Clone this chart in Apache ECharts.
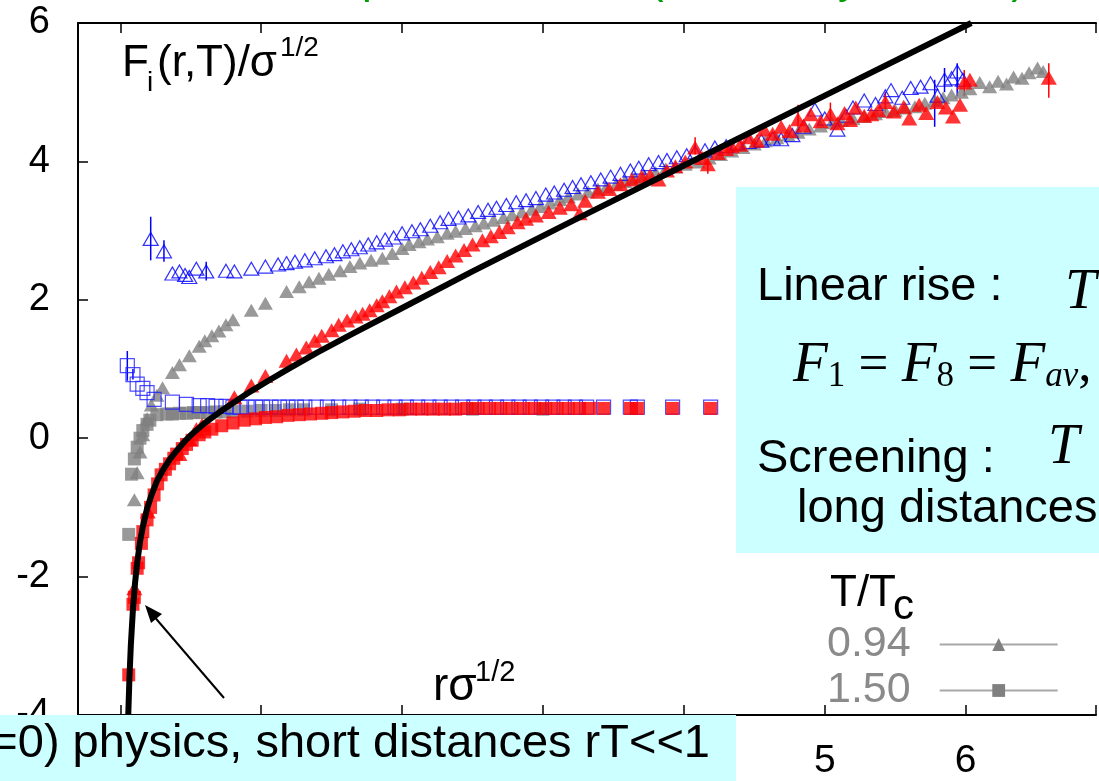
<!DOCTYPE html>
<html>
<head>
<meta charset="utf-8">
<script src="https://cdn.jsdelivr.net/npm/echarts@6/dist/echarts.min.js"></script>
<style>html,body{margin:0;padding:0;background:#fff}#chart{width:1099px;height:781px}</style>
</head>
<body>
<div id="chart"></div>
<script>
var chart = echarts.init(document.getElementById('chart'));
var option;

// x = r*sqrt(sigma), y = F/sqrt(sigma)
const cornellFit = [[0.052,-4.37],[0.057,-3.98],[0.065,-3.47],[0.075,-2.99],[0.09,-2.47],[0.105,-2.09],[0.12,-1.80],[0.14,-1.50],[0.16,-1.28],[0.19,-1.02],[0.22,-0.83],[0.26,-0.62],[0.30,-0.47],[0.35,-0.31],[0.40,-0.18],[0.46,-0.04],[0.52,0.08],[0.60,0.22],[0.70,0.37],[0.80,0.51],[0.92,0.67],[1.05,0.83],[1.20,1.01],[1.40,1.24],[1.65,1.51],[1.98,1.86],[2.5,2.41],[3.2,3.13],[4.0,3.94],[5.0,4.95],[6.04,6.0]];

// T/Tc = 0.94
const singlet094 = [[0.10,-2.17],[0.195,-1.06],[0.42,-0.23],[0.49,-0.01],[0.54,0.13],[0.58,0.19],[0.81,0.59],[0.93,0.76],[1.03,0.90],[1.18,1.12],[1.25,1.21],[1.32,1.31],[1.38,1.41],[1.43,1.48],[1.50,1.56],[1.55,1.64],[1.61,1.70],[1.67,1.76],[1.72,1.80],[1.77,1.85],[1.82,1.92],[1.86,1.98],[1.91,2.05],[1.96,2.12],[2.02,2.18],[2.08,2.25],[2.14,2.32],[2.20,2.40],[2.26,2.47],[2.32,2.56],[2.38,2.64],[2.44,2.72],[2.50,2.80],[2.57,2.86],[2.63,2.92],[2.69,2.98],[2.75,3.05],[2.82,3.12],[2.88,3.17],[2.95,3.22],[3.04,3.27],[3.12,3.33],[3.20,3.38],[3.26,3.25],[3.30,3.43],[3.39,3.56],[3.47,3.60],[3.55,3.67],[3.63,3.74],[3.70,3.78],[3.76,3.80],[3.82,3.74],[3.88,3.87],[3.94,3.93],[4.01,4.00],[4.08,4.20],[4.13,4.05],[4.17,3.96],[4.24,4.12],[4.30,4.18],[4.34,4.22],[4.40,4.24],[4.46,4.35],[4.52,4.30],[4.57,4.46],[4.63,4.40],[4.69,4.50],[4.75,4.44],[4.81,4.61],[4.85,4.52],[4.90,4.68],[4.97,4.58],[5.04,4.68],[5.09,4.55],[5.14,4.70],[5.18,4.60],[5.22,4.78],[5.28,4.66],[5.33,4.68],[5.38,4.74],[5.43,4.86],[5.49,4.72],[5.56,4.79],[5.60,4.62],[5.67,4.82],[5.72,4.70],[5.80,4.86],[5.86,4.78],[5.91,4.65],[5.96,4.82],[5.99,5.14],[6.03,5.18],[6.59,5.21]];
const octet094 = [[0.216,2.88],[0.31,2.70],[0.37,2.38],[0.42,2.41],[0.46,2.36],[0.49,2.33],[0.54,2.45],[0.61,2.41],[0.75,2.42],[0.81,2.41],[0.93,2.45],[1.03,2.48],[1.12,2.51],[1.18,2.53],[1.24,2.55],[1.31,2.57],[1.38,2.60],[1.46,2.63],[1.52,2.66],[1.58,2.70],[1.64,2.73],[1.70,2.76],[1.76,2.80],[1.82,2.83],[1.88,2.87],[1.94,2.90],[2.0,2.96],[2.07,2.99],[2.13,3.02],[2.20,3.07],[2.27,3.12],[2.33,3.17],[2.40,3.19],[2.47,3.22],[2.54,3.27],[2.61,3.30],[2.67,3.33],[2.74,3.37],[2.81,3.41],[2.88,3.44],[2.95,3.47],[3.02,3.52],[3.08,3.55],[3.15,3.59],[3.21,3.63],[3.27,3.67],[3.34,3.70],[3.41,3.74],[3.48,3.78],[3.55,3.82],[3.62,3.87],[3.68,3.91],[3.75,3.96],[3.82,3.99],[3.88,4.02],[3.95,4.06],[4.02,4.09],[4.08,4.13],[4.15,4.16],[4.22,4.20],[4.30,4.22],[4.38,4.26],[4.46,4.28],[4.55,4.30],[4.63,4.33],[4.69,4.32],[4.77,4.38],[4.85,4.50],[4.93,4.75],[5.0,4.62],[5.09,4.46],[5.15,4.66],[5.20,4.78],[5.28,4.88],[5.36,4.83],[5.43,4.94],[5.47,5.03],[5.55,4.92],[5.61,5.06],[5.68,5.08],[5.75,5.13],[5.80,4.95],[5.85,5.18],[5.90,5.20],[5.94,5.30],[5.98,5.18]];
const average094 = [[0.10,-0.89],[0.12,-0.50],[0.14,-0.20],[0.16,0.05],[0.19,0.28],[0.22,0.48],[0.26,0.62],[0.30,0.73],[0.37,0.95],[0.42,1.06],[0.49,1.19],[0.56,1.33],[0.60,1.41],[0.65,1.48],[0.70,1.55],[0.75,1.64],[0.80,1.71],[0.93,1.85],[1.03,1.95],[1.18,2.12],[1.27,2.19],[1.34,2.26],[1.41,2.31],[1.48,2.37],[1.56,2.42],[1.63,2.48],[1.70,2.53],[1.78,2.57],[1.86,2.60],[1.93,2.67],[2.0,2.74],[2.05,2.80],[2.12,2.84],[2.18,2.88],[2.25,2.91],[2.32,2.96],[2.38,2.99],[2.45,3.03],[2.52,3.07],[2.58,3.11],[2.65,3.15],[2.72,3.19],[2.78,3.23],[2.85,3.27],[2.92,3.31],[2.98,3.35],[3.05,3.40],[3.12,3.45],[3.18,3.49],[3.25,3.53],[3.32,3.56],[3.39,3.60],[3.45,3.63],[3.52,3.67],[3.58,3.71],[3.65,3.75],[3.72,3.79],[3.80,3.84],[3.87,3.89],[3.94,3.92],[4.01,3.96],[4.10,3.99],[4.18,4.05],[4.26,4.10],[4.34,4.15],[4.42,4.20],[4.50,4.25],[4.58,4.30],[4.66,4.34],[4.74,4.38],[4.81,4.42],[4.89,4.47],[4.97,4.51],[5.05,4.56],[5.12,4.59],[5.20,4.62],[5.28,4.65],[5.36,4.69],[5.43,4.72],[5.50,4.74],[5.57,4.77],[5.64,4.79],[5.71,4.84],[5.78,4.88],[5.84,4.92],[5.90,4.96],[5.97,5.00],[6.03,5.05],[6.10,5.14],[6.17,5.08],[6.23,5.16],[6.29,5.12],[6.34,5.22],[6.40,5.20],[6.45,5.28],[6.51,5.35],[6.55,5.30]];

// T/Tc = 1.50
const singlet150 = [[0.06,-3.42],[0.09,-2.40],[0.10,-2.30],[0.12,-1.88],[0.13,-1.80],[0.15,-1.52],[0.16,-1.35],[0.19,-1.18],[0.215,-1.00],[0.24,-0.82],[0.265,-0.66],[0.29,-0.53],[0.32,-0.45],[0.35,-0.37],[0.38,-0.29],[0.40,-0.23],[0.44,-0.15],[0.47,-0.09],[0.51,-0.03],[0.56,0.05],[0.60,0.09],[0.65,0.13],[0.72,0.18],[0.80,0.22],[0.88,0.26],[0.96,0.28],[1.03,0.30],[1.11,0.31],[1.19,0.33],[1.27,0.34],[1.35,0.35],[1.43,0.36],[1.50,0.37],[1.58,0.38],[1.66,0.39],[1.74,0.40],[1.82,0.40],[1.90,0.41],[1.98,0.41],[2.06,0.42],[2.14,0.42],[2.22,0.42],[2.30,0.42],[2.38,0.42],[2.46,0.43],[2.54,0.43],[2.62,0.43],[2.70,0.43],[2.78,0.43],[2.86,0.43],[2.94,0.43],[3.02,0.43],[3.10,0.43],[3.18,0.43],[3.26,0.43],[3.33,0.43],[3.43,0.43],[3.62,0.43],[3.67,0.43],[3.92,0.43],[4.19,0.43]];
const octet150 = [[0.05,1.05],[0.09,0.92],[0.12,0.78],[0.16,0.72],[0.19,0.66],[0.24,0.56],[0.37,0.52],[0.47,0.49],[0.56,0.47],[0.62,0.47],[0.68,0.46],[0.75,0.46],[0.80,0.45],[0.85,0.45],[0.90,0.45],[0.96,0.45],[1.01,0.45],[1.07,0.45],[1.13,0.45],[1.19,0.45],[1.25,0.45],[1.31,0.45],[1.39,0.45],[1.47,0.45],[1.55,0.45],[1.63,0.45],[1.71,0.45],[1.79,0.45],[1.87,0.45],[1.95,0.45],[2.03,0.45],[2.11,0.45],[2.19,0.45],[2.27,0.45],[2.35,0.45],[2.43,0.45],[2.51,0.45],[2.59,0.45],[2.67,0.45],[2.75,0.45],[2.83,0.45],[2.91,0.45],[2.99,0.45],[3.07,0.45],[3.15,0.45],[3.23,0.45],[3.31,0.45],[3.43,0.45],[3.62,0.45],[3.67,0.45],[3.92,0.45],[4.19,0.45]];
const average150 = [[0.06,-1.39],[0.08,-0.52],[0.10,-0.30],[0.12,-0.13],[0.14,0.00],[0.16,0.11],[0.19,0.20],[0.21,0.26],[0.26,0.34],[0.33,0.35],[0.37,0.35],[0.42,0.36],[0.47,0.36],[0.52,0.37],[0.56,0.37],[0.62,0.37],[0.68,0.38],[0.74,0.38],[0.80,0.39],[0.90,0.39],[1.0,0.40],[1.1,0.40],[1.2,0.41],[1.3,0.41],[1.5,0.41],[1.7,0.42],[2.0,0.42],[2.5,0.42],[3.0,0.42]];

// error bars [x, low, high]
const errOctet094 = [[0.216,2.57,3.20],[0.31,2.55,2.86],[0.61,2.28,2.55],[5.78,4.50,5.18],[5.85,5.00,5.35],[5.94,4.94,5.42]];
const errSinglet094 = [[4.08,4.10,4.35],[4.17,3.82,4.07],[4.81,4.32,4.82],[5.04,4.50,4.85],[5.43,4.70,5.00],[5.99,4.94,5.32],[6.59,4.92,5.42]];
const errOctet150 = [[0.05,0.83,1.26],[0.09,0.85,1.00]];

const legendNames = ['0.94', '1.50'];

const SANS = '"Liberation Sans", Arial, sans-serif';
const SERIF = '"Liberation Serif", "Times New Roman", serif';

function errorBars(data, color) {
  return {
    type: 'custom',
    data: data,
    encode: { x: 0, y: [1, 2] },
    renderItem: function (params, api) {
      var a = api.coord([api.value(0), api.value(1)]);
      var b = api.coord([api.value(0), api.value(2)]);
      return { type: 'line', shape: { x1: a[0], y1: a[1], x2: b[0], y2: b[1] }, style: { stroke: color, lineWidth: 1.5 } };
    }
  };
}

function txt(x, y, text, font, fill, align) {
  return { type: 'text', x: x, y: y, z: 110,
    style: { text: text, font: font, fill: fill || '#000', textAlign: align || 'left', textVerticalAlign: 'top' } };
}

const frameTick = { inside: true, length: 10, lineStyle: { color: '#000', width: 1.5 } };
const frameLine = { onZero: false, lineStyle: { color: '#000', width: 2 } };

option = {
  animation: false,
  backgroundColor: '#fff',
  grid: { left: 78, right: 0, top: 23, bottom: 61 },
  xAxis: [
    {
      type: 'value', min: -0.3, max: 6.925, splitNumber: 7,
      axisLine: frameLine, axisTick: frameTick,
      axisLabel: { color: '#000', fontSize: 39, fontFamily: SANS, margin: 27,
        formatter: function (v) { return Number.isInteger(v) ? String(v) : ''; } },
      splitLine: { show: false }
    },
    {
      type: 'value', min: -0.3, max: 6.925, splitNumber: 7, position: 'top',
      axisLine: frameLine, axisTick: frameTick,
      axisLabel: { show: false }, splitLine: { show: false }
    }
  ],
  yAxis: [
    {
      type: 'value', min: -4, max: 6, interval: 2,
      axisLine: frameLine, axisTick: frameTick,
      axisLabel: { color: '#000', fontSize: 38, fontFamily: SANS, margin: 28 },
      splitLine: { show: false }
    }
  ],
  legend: {
    data: legendNames, orient: 'vertical', align: 'right', left: 827, top: 623,
    padding: 0, itemGap: 3, itemWidth: 118, itemHeight: 16, selectedMode: false,
    textStyle: { color: '#8a8a8a', fontSize: 43, fontFamily: SANS, lineHeight: 32, padding: [0, 24, 0, 0] }
  },
  series: [
    { name: 'fit', type: 'line', data: cornellFit, showSymbol: false, smooth: false,
      lineStyle: { color: '#000', width: 6 } },
    { name: 'av094', type: 'scatter', data: average094, symbol: 'triangle', symbolSize: [15, 13],
      itemStyle: { color: '#808080' } },
    { name: 'av150', type: 'scatter', data: average150, symbol: 'rect', symbolSize: 13,
      itemStyle: { color: '#808080' } },
    errorBars(errOctet094, '#0000ff'),
    errorBars(errOctet150, '#0000ff'),
    { name: 'oct094', type: 'scatter', data: octet094, symbol: 'triangle', symbolSize: [15, 13],
      itemStyle: { color: 'rgba(0,0,0,0)', borderColor: '#0000ff', borderWidth: 1.2 } },
    { name: 'oct150', type: 'scatter', data: octet150, symbol: 'rect', symbolSize: 14,
      itemStyle: { color: 'rgba(0,0,0,0)', borderColor: '#2020ff', borderWidth: 1.2 } },
    { name: 'sing150', type: 'scatter', data: singlet150, symbol: 'rect', symbolSize: 13,
      itemStyle: { color: '#ff0000' } },
    errorBars(errSinglet094, '#ff0000'),
    { name: 'sing094', type: 'scatter', data: singlet094, symbol: 'triangle', symbolSize: [16, 14],
      itemStyle: { color: '#ff0000' } },
    { name: legendNames[0], type: 'line', data: [], symbol: 'triangle',
      itemStyle: { color: '#808080' }, lineStyle: { color: '#a8a8a8', width: 1.5 } },
    { name: legendNames[1], type: 'line', data: [], symbol: 'rect',
      itemStyle: { color: '#808080' }, lineStyle: { color: '#a8a8a8', width: 1.5 } }
  ],
  graphic: [
    // cropped green heading at the very top
    txt(30, -41, 'Quarkonium,', '44px ' + SANS, '#00a000', 'right'),
    txt(136, -41, 'T > 0,', '44px ' + SANS, '#00a000', 'right'),
    txt(299, -41, 'at finite T,', '44px ' + SANS, '#00a000', 'right'),
    txt(362, -41, 'potentials', '44px ' + SANS, '#00a000'),
    txt(649, -41, '(lattice', '44px ' + SANS, '#00a000'),
    txt(860, -41, 'study', '44px ' + SANS, '#00a000', 'right'),
    txt(1026, -41, ')', '44px ' + SANS, '#00a000', 'right'),
    // axis titles
    txt(122, 42, 'F', '44px ' + SANS),
    txt(147, 69, 'i', '28px ' + SANS),
    txt(157, 42, '(r,T)/σ', '44px ' + SANS),
    txt(280, 34, '1/2', '28px ' + SANS),
    txt(433, 664, 'rσ', '46px ' + SANS),
    txt(475, 658, '1/2', '29px ' + SANS),
    // legend title
    txt(830, 572, 'T/T', '44px ' + SANS),
    txt(893, 586, 'c', '42px ' + SANS),
    // arrow
    { type: 'line', z: 105, shape: { x1: 224, y1: 698, x2: 152, y2: 614 }, style: { stroke: '#000', lineWidth: 2 } },
    { type: 'polygon', z: 105, shape: { points: [[145, 605], [162, 614], [151, 623]] }, style: { fill: '#000' } },
    // info boxes
    { type: 'rect', z: 100, shape: { x: 736, y: 187, width: 400, height: 366 }, style: { fill: '#ccffff' } },
    { type: 'rect', z: 100, shape: { x: 0, y: 715, width: 736, height: 70 }, style: { fill: '#ccffff' } },
    txt(757, 264, 'Linear rise :', '47px ' + SANS),
    txt(1065, 265, 'T < T', 'italic 56px ' + SERIF),
    {
      type: 'text', x: 793, y: 338, z: 110,
      style: {
        text: '{f|F}{s|1}{e| = }{f|F}{s|8}{e| = }{f|F}{a|av}{e|,}',
        font: 'italic 56px ' + SERIF, fill: '#000', textVerticalAlign: 'top',
        rich: {
          f: { font: 'italic 57px ' + SERIF, lineHeight: 56 },
          e: { font: '53px ' + SERIF, lineHeight: 56 },
          s: { font: '35px ' + SERIF, lineHeight: 26, verticalAlign: 'bottom' },
          a: { font: 'italic 35px ' + SERIF, lineHeight: 26, verticalAlign: 'bottom' }
        }
      }
    },
    txt(757, 436, 'Screening :', '47px ' + SANS),
    txt(1048, 420, 'T < T', 'italic 56px ' + SERIF),
    txt(797, 486, 'long distances', '47px ' + SANS),
    txt(710, 721, '(T=0) physics, short distances rT<<1', '47px ' + SANS, '#000', 'right')
  ]
};

option && chart.setOption(option);
</script>
</body>
</html>
